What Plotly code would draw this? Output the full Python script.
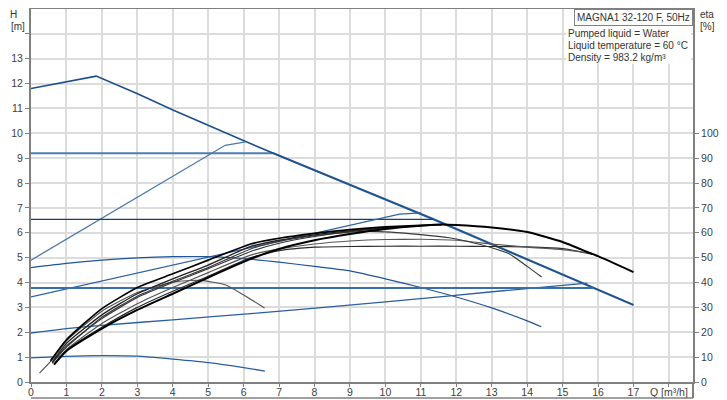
import plotly.graph_objects as go

# ---------------- Data ----------------
# Head curves H [m] vs Q [m3/h]
max_q = [0, 1.84, 2.99, 4.02, 6.09, 6.84, 11.35, 15.86, 17]
max_h = [11.8, 12.3, 11.6, 10.93, 9.65, 9.2, 6.55, 3.8, 3.1]

cp92_q = [0, 6.84, 11.35, 15.86, 17]
cp92_h = [9.2, 9.2, 6.55, 3.8, 3.1]

pp1_q = [0, 5.48, 6.05]
pp1_h = [4.9, 9.52, 9.66]

cp655_q = [0, 11.35]
cp655_h = [6.54, 6.54]

pp2_q = [0, 10.4, 11.0]
pp2_h = [3.42, 6.75, 6.8]

cc5_q = [0, 1, 2, 3, 4, 5, 6, 7, 8, 9, 10, 11, 12, 13, 14, 14.4]
cc5_h = [4.6, 4.77, 4.9, 4.99, 5.04, 5.04, 4.96, 4.82, 4.65, 4.47, 4.15, 3.8, 3.42, 2.98, 2.46, 2.22]

pp3_q = [0, 1, 2, 4, 6.2, 10, 13.24, 15.7]
pp3_h = [1.97, 2.15, 2.28, 2.5, 2.75, 3.22, 3.66, 3.98]

cp38_q = [0, 15.86]
cp38_h = [3.78, 3.78]

low_q = [0, 1, 2, 3, 4, 5, 6, 6.6]
low_h = [0.97, 1.03, 1.06, 1.04, 0.92, 0.78, 0.58, 0.44]

# Efficiency curves eta [%] vs Q [m3/h]
emax_q = [0.65, 1, 2, 3, 4, 5, 6.2, 7, 8, 9, 10, 11, 11.6, 12, 13, 14, 15, 15.7, 16, 17]
emax_e = [7, 12.5, 21.5, 29, 35.5, 42, 49.5, 53.5, 57, 59.5, 61.5, 62.8, 63.3, 63.1, 62.1, 60.3, 56.3, 52.3, 50.6, 44.2]

ea_q = [0.55, 1, 2, 3, 4, 5, 6.2, 7, 8, 9, 10, 11, 11.6]
ea_e = [8.5, 17, 29.5, 38, 43.5, 49, 55.5, 57.8, 59.8, 61.3, 62.4, 63, 63.3]

eb_q = [0.6, 1, 2, 3, 4, 5, 6.2, 7, 8, 9, 10, 11]
eb_e = [8, 15.5, 27, 35.5, 41.5, 47, 54.5, 57, 59.2, 60.8, 62, 62.8]

ec_q = [0.6, 1, 2, 3, 4, 5, 6.2, 7, 8, 9, 10, 10.7]
ec_e = [7.8, 14.5, 25.5, 34, 40, 45.5, 52.5, 55.8, 58.5, 60.5, 61.9, 62.6]

ef_q = [0.6, 1, 2, 3, 4, 5, 6.2, 7, 8, 9, 9.5, 10.15, 11, 11.8, 12.3, 13, 13.5, 14, 14.41]
ef_e = [7.5, 14, 26, 34.5, 40.5, 46, 53.5, 56.5, 58.8, 60.3, 60.6, 60.3, 59.3, 58, 56.6, 54, 51.5, 46.5, 42.2]

eg_q = [0.65, 1, 2, 3, 4, 5, 6.2, 7, 8, 9, 10, 11, 12, 13, 14, 15, 15.68]
eg_e = [7.2, 13, 23.5, 31.5, 38, 44, 51, 53.5, 55.5, 56.7, 57.3, 57.4, 57, 55.5, 54.2, 53.2, 52]

eh_q = [0.65, 1, 2, 3, 4, 5, 6.2, 7, 7.6, 8, 9, 10, 11, 12, 13, 14, 15, 15.86]
eh_e = [7, 12.8, 22, 30, 36.5, 42.5, 50, 52.8, 53.8, 54.2, 54.5, 54.6, 54.6, 54.6, 54.5, 54.3, 53.6, 51.3]

ei_q = [0.24, 0.6, 1, 2, 3, 4, 4.78, 5.5, 6, 6.59]
ei_e = [3.6, 9, 16.5, 28.5, 36, 40.2, 40.9, 39, 35, 29.8]

# Axis ticks
x_ticks = list(range(0, 19))
x_labels = [str(i) for i in range(0, 18)] + ["Q [m³/h]"]
h_ticks = list(range(0, 15))
h_labels = [str(i) for i in range(0, 14)] + [""]
eta_ticks = list(range(0, 101, 10))

# ---------------- Figure ----------------
fig = go.Figure()

# (q, h, colour, width, curved?)
head_curves = [
    (cp92_q, cp92_h, "#4f7db0", 2.2, False),
    (max_q, max_h, "#1c4f8a", 1.5, False),
    (pp1_q, pp1_h, "#4a78ac", 1.3, False),
    (cp655_q, cp655_h, "#1a3c6e", 1.2, False),
    (pp2_q, pp2_h, "#2d64a0", 1.2, False),
    (cc5_q, cc5_h, "#1f5596", 1.2, True),
    (pp3_q, pp3_h, "#2a5f9e", 1.3, True),
    (cp38_q, cp38_h, "#3a6ea8", 2.0, False),
    (low_q, low_h, "#2a5f9e", 1.3, True),
]
for q, h, c, w, curved in head_curves:
    ln = dict(color=c, width=w)
    if curved:
        ln.update(shape="spline", smoothing=0.5)
    fig.add_trace(go.Scatter(x=q, y=h, mode="lines", line=ln, showlegend=False, hoverinfo="skip"))

eta_curves = [
    (ei_q, ei_e, "#555555", 1.2),
    (eh_q, eh_e, "#2a2a2a", 1.2),
    (eg_q, eg_e, "#555555", 1.2),
    (ef_q, ef_e, "#3a3a3a", 1.2),
    (ec_q, ec_e, "#333333", 1.1),
    (eb_q, eb_e, "#222222", 1.3),
    (ea_q, ea_e, "#000000", 1.7),
    (emax_q, emax_e, "#000000", 2.0),
]
for q, e, c, w in eta_curves:
    fig.add_trace(go.Scatter(x=q, y=e, yaxis="y2", mode="lines",
                             line=dict(color=c, width=w, shape="spline", smoothing=0.5),
                             showlegend=False, hoverinfo="skip"))

axis_font = dict(family="Liberation Sans, Arial, sans-serif", size=10.5, color="#404040")
grid_c = "#dcdcdc"
line_c = "#808080"

# page body has an 8px margin, so the figure is sized to fit the window from (8, 8)
fig.update_layout(
    width=719, height=392,
    margin=dict(l=23, r=34, t=1, b=18, autoexpand=False),
    paper_bgcolor="white", plot_bgcolor="white",
    font=dict(family="Liberation Sans, Arial, sans-serif", size=10, color="#404040"),
    xaxis=dict(range=[0, 18.68], tickvals=x_ticks, ticktext=x_labels, tickfont=axis_font,
               showgrid=True, gridcolor=grid_c, gridwidth=1.5, zeroline=False,
               showline=True, linecolor=line_c, linewidth=2, mirror=True, automargin=False,
               ticks="outside", ticklen=3, tickcolor=line_c, ticklabelstandoff=-4),
    yaxis=dict(range=[0, 15], tickvals=h_ticks, ticktext=h_labels, tickfont=axis_font,
               showgrid=True, gridcolor=grid_c, gridwidth=1.5, zeroline=False,
               showline=True, linecolor=line_c, linewidth=2, automargin=False,
               ticks="outside", ticklen=4, tickcolor=line_c),
    yaxis2=dict(range=[0, 150], overlaying="y", side="right", tickvals=eta_ticks, tickfont=axis_font,
                showgrid=False, zeroline=False, showline=True, linecolor=line_c, linewidth=2,
                automargin=False, ticks="outside", ticklen=4, tickcolor=line_c),
)

# frame line below the tick labels
fig.add_shape(type="line", xref="paper", yref="paper", x0=0, x1=1, y0=-0.043, y1=-0.043,
              line=dict(color=line_c, width=1.5))
fig.add_shape(type="line", xref="paper", yref="paper", x0=1, x1=1, y0=0, y1=-0.043,
              line=dict(color=line_c, width=2))
# white background for info text
fig.add_shape(type="rect", xref="paper", yref="paper", x0=0.8086, x1=0.997, y0=0.853, y1=0.958,
              line=dict(width=0), fillcolor="white", layer="above")

small = dict(family="Liberation Sans, Arial, sans-serif", size=10, color="#333333")
fig.add_annotation(text="H", xref="paper", yref="paper", x=-0.027, y=0.985, showarrow=False,
                   xanchor="center", yanchor="middle", font=small)
fig.add_annotation(text="[m]", xref="paper", yref="paper", x=-0.0335, y=0.952, showarrow=False,
                   xanchor="left", yanchor="middle", font=small)
fig.add_annotation(text="eta", xref="paper", yref="paper", x=1.0216, y=0.985, showarrow=False,
                   xanchor="center", yanchor="middle", font=small)
fig.add_annotation(text="[%]", xref="paper", yref="paper", x=1.0216, y=0.952, showarrow=False,
                   xanchor="center", yanchor="middle", font=small)
fig.add_annotation(text="MAGNA1 32-120 F, 50Hz", xref="paper", yref="paper", x=1, y=1,
                   xanchor="right", yanchor="top", showarrow=False, font=small,
                   bordercolor=line_c, borderwidth=1, borderpad=2, bgcolor="white")
info_lines = ["Pumped liquid = Water", "Liquid temperature = 60 °C", "Density = 983.2 kg/m³"]
for i, t in enumerate(info_lines):
    fig.add_annotation(text=t, xref="paper", yref="paper", x=0.8086, y=0.9337 - i * 0.0322,
                       xanchor="left", yanchor="middle", showarrow=False, font=small)

fig.write_html("out.html")
